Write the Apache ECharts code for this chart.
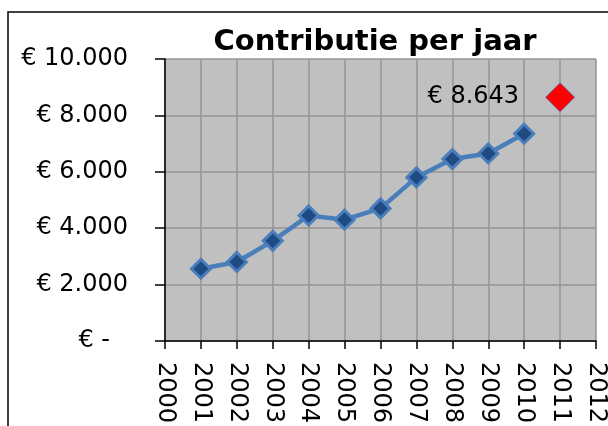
<!DOCTYPE html>
<html>
<head>
<meta charset="utf-8">
<script src="https://cdn.jsdelivr.net/npm/echarts@6/dist/echarts.min.js"></script>
<style>
  html, body { margin: 0; padding: 0; background: #fff; }
  #chart { width: 608px; height: 426px; }
</style>
</head>
<body>
<div id="chart"></div>
<script>
// jaren en contributie
const years = [2001, 2002, 2003, 2004, 2005, 2006, 2007, 2008, 2009, 2010]
const contributie = [2560, 2800, 3550, 4450, 4300, 4700, 5800, 6450, 6650, 7350]
const forecastYear = [2011]
const forecastValue = [8643]
const yTickLabels = ['€ -', '€ 2.000', '€ 4.000', '€ 6.000', '€ 8.000', '€ 10.000']

const myChart = echarts.init(document.getElementById('chart'))

const font = 'DejaVu Sans, Verdana, sans-serif'

const option = {
  animation: false,
  title: {
    text: 'Contributie per jaar',
    left: 370,
    top: 23,
    textAlign: 'center',
    textStyle: { fontFamily: font, fontSize: 29, fontWeight: 'bold', color: '#000' }
  },
  graphic: [
    {
      type: 'rect',
      z: -1,
      shape: { x: 8, y: 12, width: 640, height: 460 },
      style: { fill: 'none', stroke: '#000', lineWidth: 1.5 }
    }
  ],
  grid: {
    left: 165,
    right: 8,
    top: 59,
    bottom: 82,
    show: true,
    backgroundColor: '#c0c0c0',
    borderWidth: 0
  },
  xAxis: {
    type: 'value',
    min: 2000,
    max: 2012,
    interval: 1,
    axisLine: { show: true, lineStyle: { color: '#000', width: 1.5 } },
    axisTick: { show: true, length: 8, lineStyle: { color: '#000', width: 1.5 } },
    axisLabel: {
      rotate: -90,
      margin: 21,
      fontFamily: font,
      fontSize: 24,
      color: '#000',
      formatter: (v) => String(v)
    },
    splitLine: { show: true, lineStyle: { color: '#959595', width: 1.5 } }
  },
  yAxis: {
    type: 'value',
    min: 0,
    max: 10000,
    interval: 2000,
    axisLine: { show: true, lineStyle: { color: '#000', width: 1.5 } },
    axisTick: { show: true, length: 10, lineStyle: { color: '#000', width: 1.5 } },
    axisLabel: {
      margin: 37,
      fontFamily: font,
      fontSize: 24,
      color: '#000',
      formatter: (v) => {
        const label = yTickLabels[Math.round(v / 2000)]
        return v === 0 ? '{z|' + label + '}' : label
      },
      rich: {
        z: { fontFamily: font, fontSize: 24, color: '#000', padding: [0, 18, 0, 0] }
      }
    },
    splitLine: { show: true, lineStyle: { color: '#959595', width: 1.5 } }
  },
  series: [
    {
      type: 'line',
      data: years.map((y, i) => [y, contributie[i]]),
      symbol: 'diamond',
      symbolSize: 19,
      lineStyle: { color: '#4a7ebb', width: 4.5 },
      itemStyle: { color: '#1f4a84', borderColor: '#4a7ebb', borderWidth: 3 },
      emphasis: { disabled: true },
      z: 3
    },
    {
      type: 'scatter',
      data: forecastYear.map((y, i) => [y, forecastValue[i]]),
      symbol: 'diamond',
      symbolSize: 29,
      itemStyle: { color: '#ff0000', borderColor: '#6a6aa8', borderWidth: 1, opacity: 1 },
      label: {
        show: true,
        position: 'left',
        distance: 26,
        fontFamily: font,
        fontSize: 24,
        color: '#000',
        textBorderWidth: 0,
        formatter: (p) => '€ ' + p.value[1].toLocaleString('nl-NL')
      },
      emphasis: { disabled: true },
      z: 4
    }
  ]
}
myChart.setOption(option)
</script>
</body>
</html>
